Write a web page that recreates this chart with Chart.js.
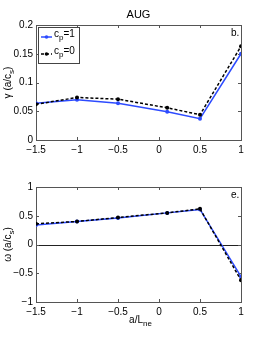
<!DOCTYPE html>
<html lang="en">
<head>
    <meta charset="UTF-8">
    <title>AUG</title>
    <script src="https://cdn.jsdelivr.net/npm/chart.js"></script>
    <style>
        body { margin: 0; background: white; }
        canvas { display: block; }
    </style>
</head>
<body>
    <canvas id="gammaChart" width="266" height="160"></canvas>
    <canvas id="omegaChart" width="266" height="180"></canvas>
    <script>
        const xs = [-1.5, -1, -0.5, 0.1, 0.5, 1];
        const gamma1 = [0.064, 0.070, 0.064, 0.049, 0.037, 0.150];
        const gamma0 = [0.062, 0.074, 0.071, 0.056, 0.044, 0.163];
        const omega1 = [0.34, 0.40, 0.46, 0.55, 0.61, -0.56];
        const omega0 = [0.36, 0.40, 0.47, 0.55, 0.62, -0.62];

        const BLUE = 'rgb(45,75,255)';
        const FONT = '"Liberation Sans", Arial, sans-serif';

        function fmt(v) {
            const s = String(Math.round(v * 100) / 100);
            return s.replace('-', '\u2212');
        }

        function pts(ys) {
            return xs.map((x, i) => ({ x: x, y: ys[i] }));
        }

        // text with a subscript part, e.g. c + p
        function subText(ctx, parts, x, y) {
            let cx = x;
            parts.forEach(p => {
                ctx.font = (p.sub ? '8px ' : '10px ') + FONT;
                ctx.fillText(p.t, cx, y + (p.sub ? 4 : 0));
                cx += ctx.measureText(p.t).width;
            });
            return cx;
        }
        function subWidth(ctx, parts) {
            let w = 0;
            parts.forEach(p => {
                ctx.font = (p.sub ? '8px ' : '10px ') + FONT;
                w += ctx.measureText(p.t).width;
            });
            return w;
        }

        const matlabAxes = {
            id: 'matlabAxes',
            beforeDatasetsDraw(chart, args, opts) {
                const a = chart.chartArea;
                const ctx = chart.ctx;
                const xS = chart.scales.x, yS = chart.scales.y;
                ctx.save();
                if (opts.zero) {
                    const y0 = Math.round(yS.getPixelForValue(0)) + 0.5;
                    ctx.strokeStyle = '#222';
                    ctx.lineWidth = 1;
                    ctx.beginPath();
                    ctx.moveTo(a.left, y0);
                    ctx.lineTo(a.right, y0);
                    ctx.stroke();
                }
                ctx.strokeStyle = '#555';
                ctx.lineWidth = 1;
                ctx.strokeRect(Math.round(a.left) + 0.5, Math.round(a.top) + 0.5,
                    Math.round(a.right - a.left), Math.round(a.bottom - a.top));
                ctx.beginPath();
                xS.ticks.forEach(t => {
                    const px = Math.round(xS.getPixelForValue(t.value)) + 0.5;
                    ctx.moveTo(px, a.bottom); ctx.lineTo(px, a.bottom - 3);
                    ctx.moveTo(px, a.top); ctx.lineTo(px, a.top + 3);
                });
                yS.ticks.forEach(t => {
                    const py = Math.round(yS.getPixelForValue(t.value)) + 0.5;
                    ctx.moveTo(a.left, py); ctx.lineTo(a.left + 3, py);
                    ctx.moveTo(a.right, py); ctx.lineTo(a.right - 3, py);
                });
                ctx.stroke();
                ctx.restore();
            },
            afterDraw(chart, args, opts) {
                const ctx = chart.ctx;
                const a = chart.chartArea;
                ctx.save();
                ctx.fillStyle = '#000';
                ctx.textBaseline = 'middle';
                // panel tag
                ctx.font = '10px ' + FONT;
                ctx.textAlign = 'left';
                ctx.fillText(opts.tag, a.right - 10, a.top + 8);
                // title
                if (opts.title) {
                    ctx.textAlign = 'center';
                    ctx.font = '11px ' + FONT;
                    ctx.fillText(opts.title, (a.left + a.right) / 2, 15);
                }
                // y label (rotated)
                ctx.textAlign = 'left';
                const yl = opts.ylabel;
                const yw = subWidth(ctx, yl);
                ctx.save();
                ctx.translate(8, (a.top + a.bottom) / 2);
                ctx.rotate(-Math.PI / 2);
                subText(ctx, yl, -yw / 2, 0);
                ctx.restore();
                // x label
                if (opts.xlabel) {
                    const xl = opts.xlabel;
                    const xw = subWidth(ctx, xl);
                    subText(ctx, xl, (a.left + a.right) / 2 - xw / 2 + 2, a.bottom + 18);
                }
                // legend
                if (opts.legend) {
                    const lx = a.left + 2, ly = a.top + 2;
                    ctx.fillStyle = '#fff';
                    ctx.fillRect(lx, ly, 41, 36);
                    ctx.strokeStyle = '#444';
                    ctx.lineWidth = 1;
                    ctx.strokeRect(lx + 0.5, ly + 0.5, 41, 36);
                    const rows = [
                        { color: BLUE, dash: [], y: ly + 10, lab: [{ t: 'c' }, { t: 'p', sub: true }, { t: '=1' }] },
                        { color: '#000', dash: [3, 2], y: ly + 27, lab: [{ t: 'c' }, { t: 'p', sub: true }, { t: '=0' }] }
                    ];
                    rows.forEach(r => {
                        ctx.strokeStyle = r.color;
                        ctx.lineWidth = 1.5;
                        ctx.setLineDash(r.dash);
                        ctx.beginPath();
                        ctx.moveTo(lx + 3, r.y);
                        ctx.lineTo(lx + 14, r.y);
                        ctx.stroke();
                        ctx.setLineDash([]);
                        ctx.fillStyle = r.color;
                        ctx.beginPath();
                        ctx.arc(lx + 8.5, r.y, 1.8, 0, Math.PI * 2);
                        ctx.fill();
                        ctx.fillStyle = '#000';
                        subText(ctx, r.lab, lx + 16, r.y - 3);
                    });
                }
                ctx.restore();
            }
        };

        function makeChart(id, blueVals, blackVals, ymin, ymax, ystep, padTop, opts) {
            return new Chart(document.getElementById(id), {
                type: 'line',
                data: {
                    datasets: [
                        {
                            label: 'cp=0', data: pts(blackVals),
                            borderColor: '#000', backgroundColor: '#000',
                            borderWidth: 1.5, borderDash: [3, 2],
                            pointRadius: 2, pointBorderWidth: 0
                        },
                        {
                            label: 'cp=1', data: pts(blueVals),
                            borderColor: BLUE, backgroundColor: BLUE,
                            borderWidth: 1.5,
                            pointRadius: 2, pointBorderWidth: 0
                        }
                    ]
                },
                options: {
                    responsive: false,
                    animation: false,
                    events: [],
                    layout: { padding: { top: padTop, right: 25, left: 0, bottom: opts.bottomPad } },
                    plugins: {
                        legend: { display: false },
                        tooltip: { enabled: false },
                        matlabAxes: opts
                    },
                    scales: {
                        x: {
                            type: 'linear', min: -1.5, max: 1,
                            grid: { display: false, drawTicks: false },
                            border: { display: false },
                            afterFit: s => { s.height = 20; },
                            ticks: {
                                stepSize: 0.5, padding: 4, color: '#000',
                                font: { family: FONT, size: 10 },
                                maxRotation: 0, autoSkip: false,
                                callback: v => fmt(v)
                            }
                        },
                        y: {
                            min: ymin, max: ymax,
                            grid: { display: false, drawTicks: false },
                            border: { display: false },
                            afterFit: s => { s.width = 36; },
                            ticks: {
                                stepSize: ystep, padding: 3, color: '#000',
                                font: { family: FONT, size: 10 },
                                callback: v => fmt(v)
                            }
                        }
                    }
                },
                plugins: [matlabAxes]
            });
        }

        makeChart('gammaChart', gamma1, gamma0, 0, 0.2, 0.05, 25, {
            tag: 'b.', title: 'AUG', legend: true, bottomPad: 0,
            ylabel: [{ t: '\u03b3 (a/c' }, { t: 's', sub: true }, { t: ')' }]
        });
        makeChart('omegaChart', omega1, omega0, -1, 1, 0.5, 27, {
            tag: 'e.', zero: true, bottomPad: 18,
            ylabel: [{ t: '\u03c9 (a/c' }, { t: 's', sub: true }, { t: ')' }],
            xlabel: [{ t: 'a/L' }, { t: 'ne', sub: true }]
        });
    </script>
</body>
</html>
